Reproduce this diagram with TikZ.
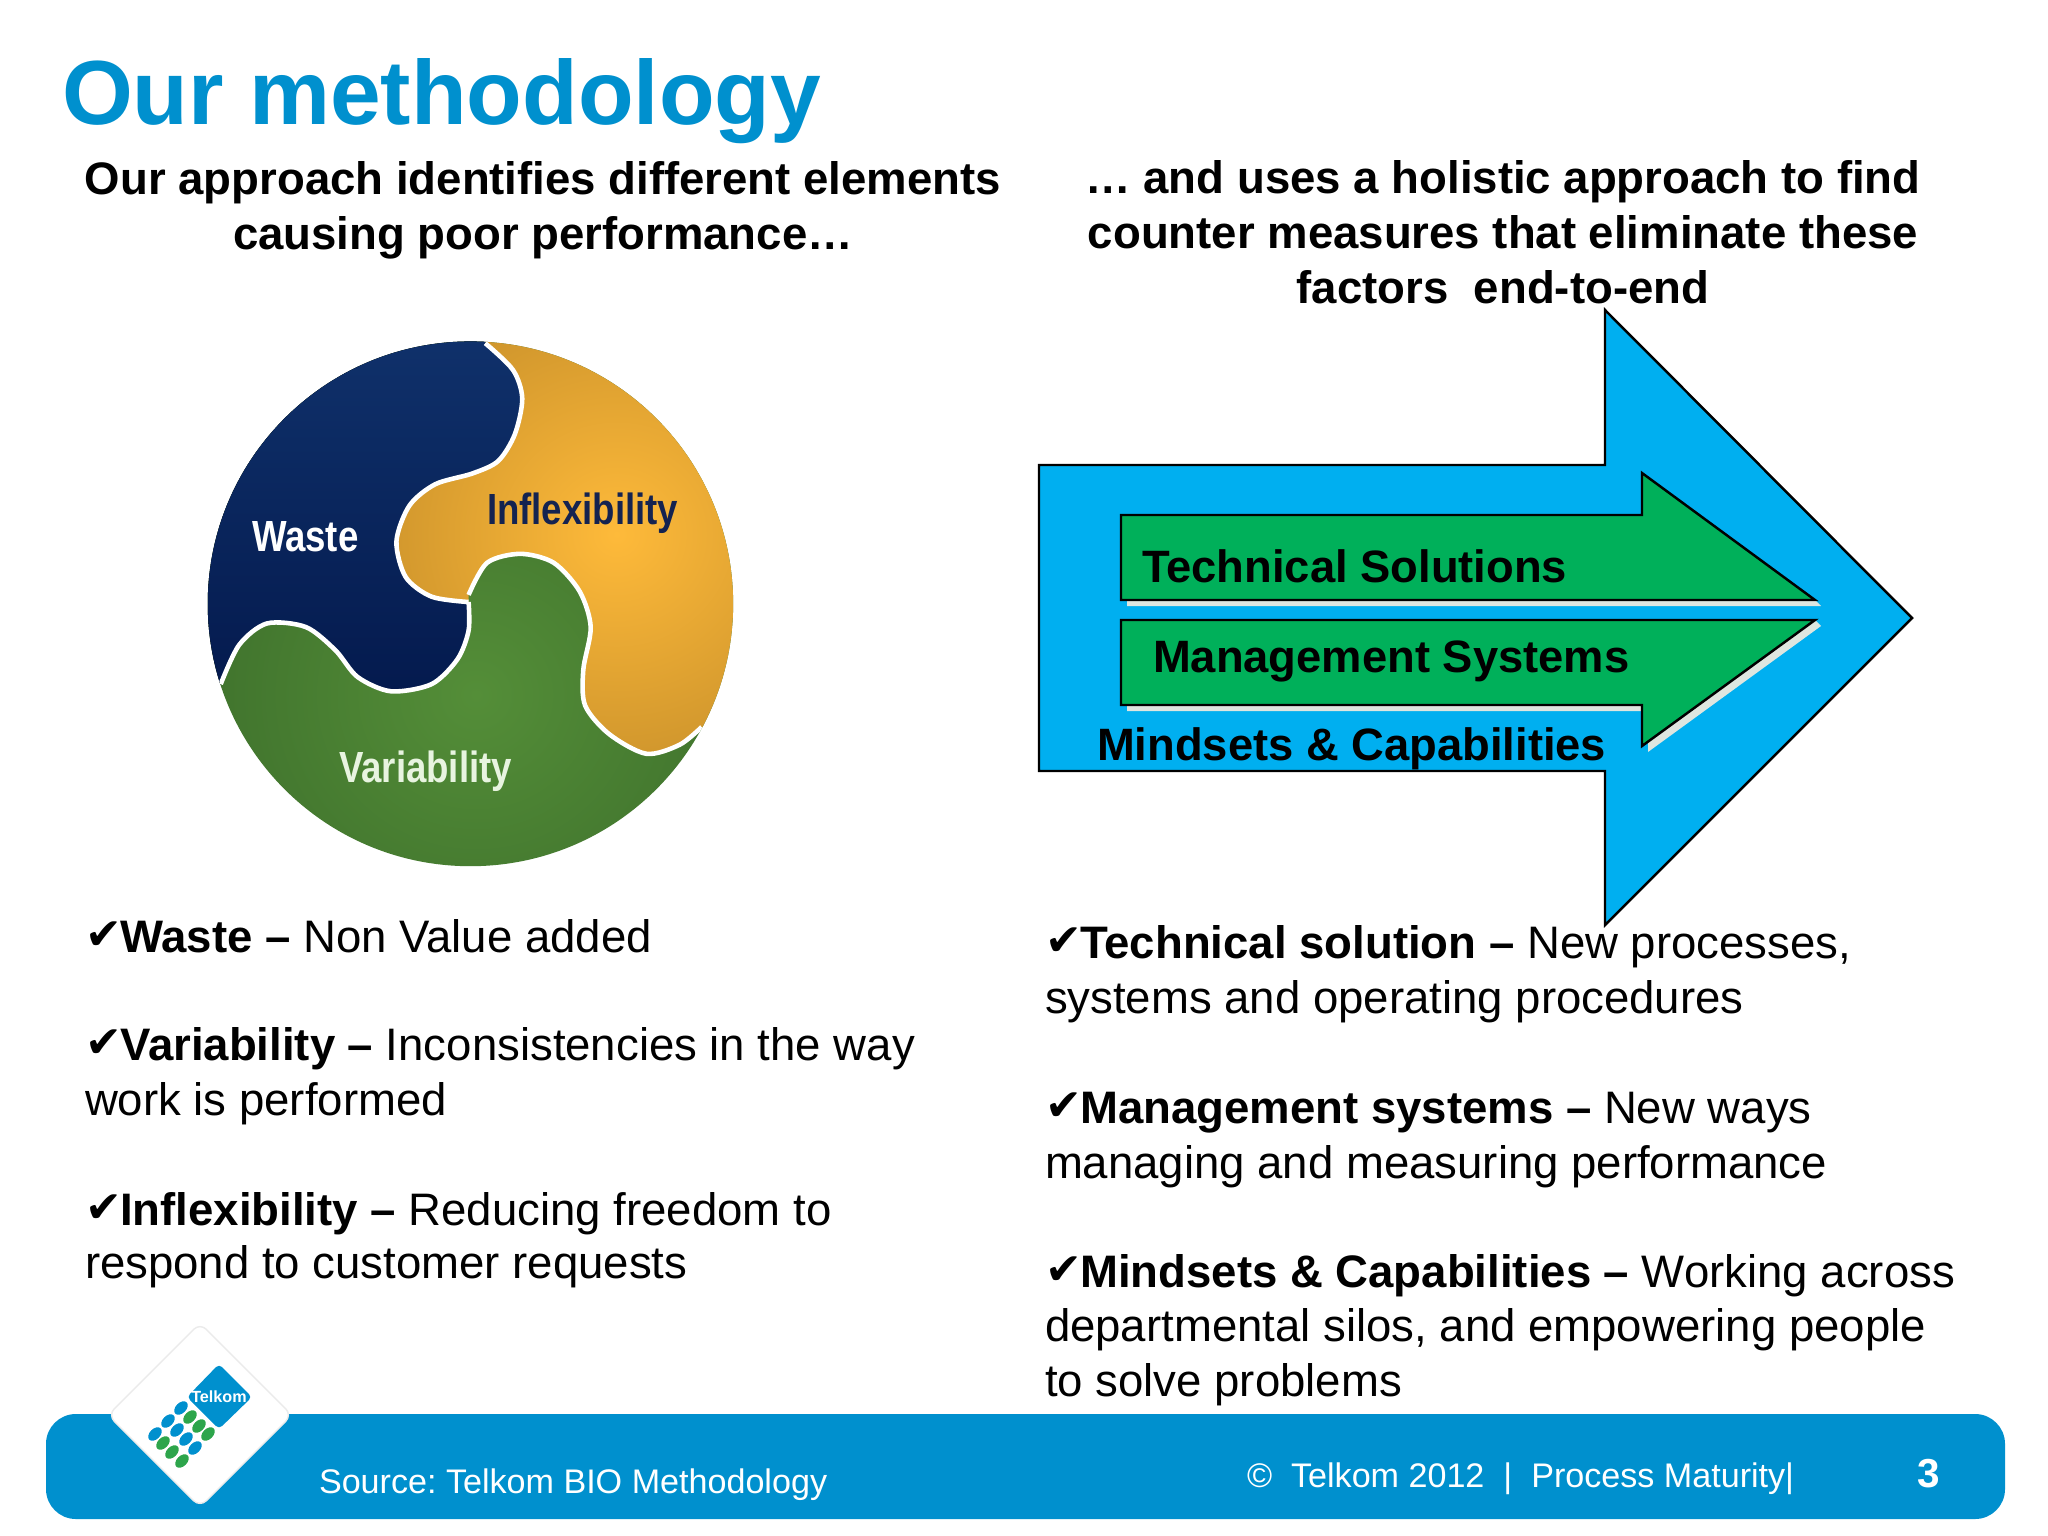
\documentclass[tikz,border=0pt]{standalone}
\usepackage{fontspec}
\setmainfont{Liberation Sans}
\newfontfamily\tickfont{DejaVu Sans}
\usetikzlibrary{%
        arrows.meta,
        positioning
    }
\definecolor{telkomblue}{RGB}{0, 144, 206}
\definecolor{telkomgreen}{RGB}{45, 165, 75}
\definecolor{bigarrow}{RGB}{0, 175, 240}
\definecolor{smallarrow}{RGB}{0, 176, 90}
\definecolor{arrowshadow}{RGB}{222, 230, 224}
\newcommand{\tickmark}{\makebox[10pt][l]{\raisebox{0.8pt}{\tickfont\fontsize{12.5}{15}\selectfont ✔}}}
\tikzset{%
    every node/.style={inner sep=0pt, outer sep=0pt},
    titletext/.style={anchor=base west, text=telkomblue,
        font=\fontsize{25.9}{30}\bfseries\selectfont},
    headtext/.style={anchor=base, align=center,
        font=\fontsize{12.95}{15.6}\bfseries\selectfont},
    bodytext/.style={anchor=base west, align=left,
        font=\fontsize{12.95}{15.5}\selectfont},
    arrowtext/.style={anchor=base west,
        font=\fontsize{12.9}{15}\bfseries\selectfont},
    circletext/.style={anchor=base west, xscale=0.84, transform shape,
        font=\fontsize{12.4}{15}\bfseries\selectfont},
    foottext/.style={anchor=base west, text=white,
        font=\fontsize{9.7}{12}\selectfont},
    arrowline/.style={draw=black, line width=0.7pt, line join=miter},
    seam/.style={draw=white, line width=1.3pt}
}
\def\seamwaste{(825,65) (900,140) (925,220) (905,320) (860,395) (790,430) (690,460) (620,520) (585,620) (610,720) (680,775) (780,790)}
\def\seamgreen{(110,1020) (160,910) (235,850) (340,860) (420,925) (480,1000) (570,1040) (680,1020) (750,950) (780,870) (780,790)}
\def\seamgold{(780,770) (830,680) (920,655) (1010,680) (1080,760) (1110,860) (1090,980) (1095,1080) (1160,1160) (1260,1215) (1350,1190) (1410,1140)}

\begin{document}
\frenchspacing
\begin{tikzpicture}[x=0.01cm, y=-0.01cm]

    \useasboundingbox[fill=white] (0, 0) rectangle (2048, 1536);

    % Headings
    \node[titletext] (title) at (62, 124) {Our methodology};
    \node[headtext] (headleft) at (543, 249)
        {Our approach identifies different elements\\causing poor performance\ldots};
    \node[headtext] (headright) at (1503, 303)
        {\ldots\ and uses a holistic approach to find\\counter measures that eliminate these\\factors\ \ end-to-end};

    % The circle of three pieces
    \begin{scope}[shift={(180, 320)}, xscale=0.37, yscale=0.357]
        \clip (785, 795) ellipse [x radius=710, y radius=735];
        \shade[inner color={rgb,255:red,84;green,142;blue,56},
               outer color={rgb,255:red,44;green,88;blue,34}]
            (800, 1050) ellipse [x radius=1500, y radius=1500];
        \begin{scope}
            \clip plot[smooth] coordinates {\seamwaste}
                -- plot[smooth] coordinates {\seamgold}
                -- (1600, 1140) -- (1600, 0) -- (825, 0) -- cycle;
            \shade[inner color={rgb,255:red,254;green,186;blue,58},
                   outer color={rgb,255:red,150;green,105;blue,28}]
                (1180, 600) ellipse [x radius=1450, y radius=1450];
        \end{scope}
        \fill[top color={rgb,255:red,16;green,50;blue,108},
              bottom color={rgb,255:red,4;green,26;blue,78}]
            plot[smooth] coordinates {\seamgreen}
            -- plot[smooth] coordinates {(780,790) (680,775) (610,720) (585,620) (620,520) (690,460) (790,430) (860,395) (905,320) (925,220) (900,140) (825,65)}
            -- (825, 0) -- (0, 0) -- (0, 1020) -- cycle;
        \draw[seam] plot[smooth] coordinates {\seamwaste};
        \draw[seam] plot[smooth] coordinates {\seamgreen};
        \draw[seam] plot[smooth] coordinates {\seamgold};
    \end{scope}
    \node[circletext, text=white] (waste) at (252, 551) {Waste};
    \node[circletext, text={rgb,255:red,20;green,35;blue,80}] (inflex) at (487, 524) {Inflexibility};
    \node[circletext, text={rgb,255:red,232;green,244;blue,224}] (varia) at (339, 782) {Variability};

    % The big arrow and the two arrows in it
    \path[arrowline, fill=bigarrow]
        (1039, 465) -- (1605, 465) -- (1605, 310) -- (1912, 618)
        -- (1605, 925) -- (1605, 771) -- (1039, 771) -- cycle;
    \fill[arrowshadow]
        (1127, 606) -- (1821, 606) -- (1815, 600) -- (1127, 600) -- cycle;
    \fill[arrowshadow]
        (1127, 711) -- (1648, 711) -- (1648, 752) -- (1821, 626) -- (1815, 620)
        -- (1642, 745) -- (1642, 705) -- (1127, 705) -- cycle;
    \path[arrowline, fill=smallarrow]
        (1121, 515) -- (1642, 515) -- (1642, 473) -- (1815, 600) -- (1121, 600) -- cycle;
    \path[arrowline, fill=smallarrow]
        (1121, 620) -- (1815, 620) -- (1642, 746) -- (1642, 705) -- (1121, 705) -- cycle;
    \node[arrowtext] (technical) at (1142, 582) {Technical Solutions};
    \node[arrowtext] (management) at (1153, 672) {Management Systems};
    \node[arrowtext] (mindsets) at (1097, 760) {Mindsets \& Capabilities};

    % Left list
    \node[bodytext] (listwaste) at (85, 952)
        {\tickmark\textbf{Waste --} Non Value added};
    \node[bodytext] (listvaria) at (85, 1115)
        {\tickmark\textbf{Variability --} Inconsistencies in the way\\work is performed};
    \node[bodytext] (listinflex) at (85, 1278)
        {\tickmark\textbf{Inflexibility --} Reducing freedom to\\[-0.6pt]respond to customer requests};

    % Right list
    \node[bodytext] (listtech) at (1045, 1013)
        {\tickmark\textbf{Technical solution --} New processes,\\systems and operating procedures};
    \node[bodytext] (listmanage) at (1045, 1178)
        {\tickmark\textbf{Management systems --} New ways\\managing and measuring performance};
    \node[bodytext] (listmind) at (1045, 1396)
        {\tickmark\textbf{Mindsets \& Capabilities --} Working across\\departmental silos, and empowering people\\to solve problems};

    % Footer bar
    \fill[telkomblue, rounded corners=8.5pt] (46, 1414) rectangle (2005, 1519);
    \node[foottext] (source) at (319, 1493) {Source: Telkom BIO Methodology};
    \node[foottext] (rights) at (1247, 1487) {©\ \ Telkom 2012\ \ |\ \ Process Maturity|};
    \node[foottext, anchor=base, font=\fontsize{11.5}{14}\bfseries\selectfont] (pagenum) at (1929, 1487) {3};

    % Logo
    \draw[draw=black!8, fill=white, rounded corners=2.5pt]
        (200, 1323) -- (292, 1415) -- (200, 1507) -- (108, 1415) -- cycle;
    \fill[telkomblue, rounded corners=1.2pt]
        (219, 1364) -- (252, 1397) -- (219, 1429) -- (187, 1397) -- cycle;
    \node[text=white, font=\fontsize{4.6}{6}\bfseries\selectfont] (telkom) at (219, 1397) {Telkom};
    \foreach \valx/\valy in {181/1408, 168/1421, 155/1434, 177/1430, 186/1439, 195/1448}{%
        \fill[telkomblue, rotate around={45:(\valx, \valy)}] (\valx, \valy) ellipse [x radius=8, y radius=5.2];
    }
    \foreach \valx/\valy in {190/1417, 199/1426, 208/1434, 163/1443, 172/1452, 182/1461}{%
        \fill[telkomgreen, rotate around={45:(\valx, \valy)}] (\valx, \valy) ellipse [x radius=8, y radius=5.2];
    }

\end{tikzpicture}
\end{document}
